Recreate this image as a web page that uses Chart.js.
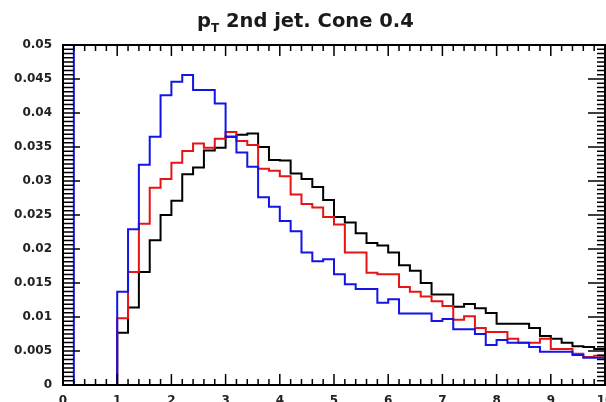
<!DOCTYPE html>
<html>
<head>
<meta charset="utf-8">
<script src="https://cdn.jsdelivr.net/npm/chart.js@4.4.1/dist/chart.umd.min.js"></script>
<style>
  body { margin: 0; background: #fff; }
  #wrap { position: relative; width: 606px; height: 402px; }
  #title {
    position: absolute; left: 197px; top: 11px;
    font: bold 19.5px "DejaVu Sans", sans-serif; line-height: 20px;
    color: #1a1a1a; white-space: nowrap;
  }
  #title sub { font-size: 12px; vertical-align: -5px; }
</style>
</head>
<body>
<div id="wrap">
  <canvas id="ptChart" width="606" height="402"></canvas>
  <div id="title">p<sub>T</sub> 2nd jet. Cone 0.4</div>
</div>
<script>
// 50 bins of 0.2 from 0 to 10
const binWidth = 0.2;
const binEdges = Array.from({ length: 51 }, (_, i) => +(i * binWidth).toFixed(1));

// blue: first bin goes off the top of the frame
const blueValues = [
  0.06, 0, 0, 0, 0,
  0.0137, 0.0229, 0.0324, 0.0365, 0.0426, 0.0446, 0.0456, 0.0434, 0.0434, 0.0414,
  0.0365, 0.0342, 0.0321, 0.0276, 0.0262, 0.0241, 0.0226, 0.0195, 0.0182, 0.0185,
  0.0163, 0.0148, 0.0141, 0.0141, 0.0121, 0.0126, 0.0105, 0.0105, 0.0105, 0.0094,
  0.0097, 0.0082, 0.0082, 0.0075, 0.0059, 0.0066, 0.0062, 0.0062, 0.0056, 0.0049,
  0.0049, 0.0049, 0.0044, 0.0040, 0.0040
];
const redValues = [
  0, 0, 0, 0, 0,
  0.0098, 0.0166, 0.0237, 0.0290, 0.0303, 0.0327, 0.0344, 0.0355, 0.0349, 0.0362,
  0.0372, 0.0359, 0.0353, 0.0318, 0.0315, 0.0307, 0.0280, 0.0266, 0.0261, 0.0247,
  0.0236, 0.0195, 0.0195, 0.0165, 0.0163, 0.0163, 0.0144, 0.0137, 0.0130, 0.0123,
  0.0116, 0.0096, 0.0101, 0.0084, 0.0078, 0.0078, 0.0068, 0.0062, 0.0062, 0.0068,
  0.0053, 0.0053, 0.0046, 0.0041, 0.0043
];
const blackValues = [
  0, 0, 0, 0, 0,
  0.0077, 0.0114, 0.0166, 0.0213, 0.0250, 0.0271, 0.0310, 0.0320, 0.0345, 0.0349,
  0.0365, 0.0368, 0.0370, 0.0350, 0.0331, 0.0330, 0.0311, 0.0303, 0.0291, 0.0272,
  0.0247, 0.0239, 0.0223, 0.0209, 0.0205, 0.0195, 0.0176, 0.0168, 0.0150, 0.0133,
  0.0133, 0.0115, 0.0119, 0.0113, 0.0106, 0.0090, 0.0090, 0.0090, 0.0084, 0.0072,
  0.0068, 0.0062, 0.0057, 0.0056, 0.0053
];

const xTicks = [0, 1, 2, 3, 4, 5, 6, 7, 8, 9, 10];
const yTicks = [0, 0.005, 0.01, 0.015, 0.02, 0.025, 0.03, 0.035, 0.04, 0.045, 0.05];

// step histogram: one point per bin low edge, plus the last edge
function histPoints(values) {
  const pts = values.map((v, i) => ({ x: binEdges[i], y: v }));
  pts.push({ x: binEdges[values.length], y: values[values.length - 1] });
  return pts;
}

function histSet(values, color) {
  return {
    data: histPoints(values),
    borderColor: color,
    borderWidth: 2,
    stepped: true,
    pointRadius: 0,
    fill: false
  };
}

// ROOT-like frame with ticks on all four sides, pointing inwards
const frameTicks = {
  id: "frameTicks",
  afterDatasetsDraw(chart) {
    const { ctx, chartArea: a, scales } = chart;
    const xs = scales.x, ys = scales.y;
    ctx.save();
    ctx.strokeStyle = "#000";
    ctx.lineWidth = 1.5;
    ctx.beginPath();
    for (let k = 0; k <= 50; k++) {
      const px = xs.getPixelForValue(k * binWidth);
      const len = k % 5 === 0 ? 11 : 6;
      ctx.moveTo(px, a.bottom); ctx.lineTo(px, a.bottom - len);
      ctx.moveTo(px, a.top); ctx.lineTo(px, a.top + len);
    }
    for (let k = 0; k <= 80; k++) {
      const py = ys.getPixelForValue(k * 0.000625);
      const len = k % 8 === 0 ? 17 : 11;
      ctx.moveTo(a.left, py); ctx.lineTo(a.left + len, py);
      ctx.moveTo(a.right, py); ctx.lineTo(a.right - (k % 8 === 0 ? 17 : 8), py);
    }
    ctx.stroke();
    ctx.lineWidth = 2;
    ctx.strokeRect(a.left, a.top, a.right - a.left, a.bottom - a.top);
    ctx.restore();
  }
};

const ctx = document.getElementById("ptChart").getContext("2d");
new Chart(ctx, {
  type: "line",
  data: {
    datasets: [
      histSet(blueValues, "#1414e6"),
      histSet(redValues, "#e61414"),
      histSet(blackValues, "#000000")
    ]
  },
  options: {
    responsive: false,
    animation: false,
    layout: { padding: { top: 45, right: 1, left: 0, bottom: 0 } },
    plugins: { legend: { display: false }, tooltip: { enabled: false } },
    scales: {
      x: {
        type: "linear",
        min: 0, max: 10,
        grid: { display: false },
        border: { display: false },
        afterBuildTicks: s => { s.ticks = xTicks.map(v => ({ value: v })); },
        afterFit: s => { s.height = 17; s.paddingLeft = 0; s.paddingRight = 0; },
        ticks: {
          padding: 1,
          maxRotation: 0,
          autoSkip: false,
          color: "#222",
          font: { family: "DejaVu Sans", weight: "bold", size: 12 },
          callback: v => String(v)
        }
      },
      y: {
        min: 0, max: 0.05,
        grid: { display: false },
        border: { display: false },
        afterBuildTicks: s => { s.ticks = yTicks.map(v => ({ value: v })); },
        afterFit: s => { s.width = 63; s.paddingTop = 0; s.paddingBottom = 0; },
        ticks: {
          padding: 3,
          autoSkip: false,
          color: "#222",
          font: { family: "DejaVu Sans", weight: "bold", size: 12 },
          callback: v => String(+v.toFixed(3))
        }
      }
    }
  },
  plugins: [frameTicks]
});
</script>
</body>
</html>
